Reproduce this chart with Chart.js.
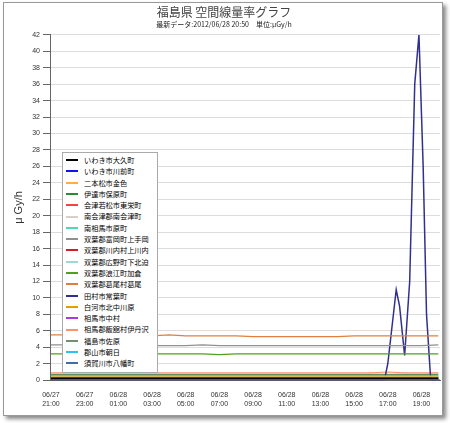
<!DOCTYPE html>
<html><head><meta charset="utf-8">
<script src="https://cdn.jsdelivr.net/npm/chart.js@4"></script>
<style>
body{margin:0;background:#fff;font-family:"Noto Sans CJK JP",sans-serif}
#wrap{position:absolute;left:3px;top:2px;width:438px;height:412px;border:1px solid #999;box-shadow:3px 3px 4px #888;background:#fff}
#legend{position:absolute;left:62px;top:152px;width:94px;border:1px solid #aaa;background:#fff;font-size:7.2px;padding:2px 0}
#legend div{height:11.3px;line-height:11.3px;white-space:nowrap}
#legend span{display:inline-block;width:12px;height:2px;margin:0 6px 2px 3px;vertical-align:middle}
</style></head><body>
<div id="wrap"><canvas id="c" width="438" height="412"></canvas></div>
<div id="legend"></div>
<script>
const names = ['いわき市大久町','いわき市川前町','二本松市金色','伊達市保原町','会津若松市東栄町','南会津郡南会津町','南相馬市原町','双葉郡富岡町上手岡','双葉郡川内村上川内','双葉郡広野町下北迫','双葉郡浪江町加倉','双葉郡葛尾村葛尾','田村市常葉町','白河市北中川原','相馬市中村','相馬郡飯舘村伊丹沢','福島市佐原','郡山市朝日','須賀川市八幡町'];
const colors = ['#000000','#1010f0','#ffb040','#2e8b2e','#ff4040','#d8d0c8','#50d8b0','#909090','#d02020','#a0d8d8','#50a020','#e08040','#303090','#e0a000','#a040e0','#ff9070','#709070','#30c0f0','#4070a0'];
const hours = [0,1,2,3,4,5,6,7,8,9,10,11,12,13,14,15,16,17,18,19,20,21,22,23];
const tickLabels = [['06/27','21:00'],['06/27','23:00'],['06/28','01:00'],['06/28','03:00'],['06/28','05:00'],['06/28','07:00'],['06/28','09:00'],['06/28','11:00'],['06/28','13:00'],['06/28','15:00'],['06/28','17:00'],['06/28','19:00']];
const values = [
 [0.2,0.2,0.2,0.2,0.2,0.2,0.2,0.2,0.2,0.2,0.2,0.2,0.2,0.2,0.2,0.2,0.2,0.2,0.2,0.2,0.2,0.2,0.2,0.2],
 [0.3,0.3,0.3,0.3,0.3,0.3,0.3,0.3,0.3,0.3,0.3,0.3,0.3,0.3,0.3,0.3,0.3,0.3,0.3,0.3,0.3,0.3,0.3,0.3],
 [0.5,0.5,0.5,0.5,0.5,0.5,0.5,0.5,0.5,0.5,0.5,0.5,0.5,0.5,0.5,0.5,0.5,0.5,0.5,0.5,0.5,0.5,0.5,0.5],
 [0.6,0.6,0.6,0.6,0.6,0.6,0.6,0.6,0.6,0.6,0.6,0.6,0.6,0.6,0.6,0.6,0.6,0.6,0.6,0.6,0.6,0.6,0.6,0.6],
 [0.1,0.1,0.1,0.1,0.1,0.1,0.1,0.1,0.1,0.1,0.1,0.1,0.1,0.1,0.1,0.1,0.1,0.1,0.1,0.1,0.1,0.1,0.1,0.1],
 [0.1,0.1,0.1,0.1,0.1,0.1,0.1,0.1,0.1,0.1,0.1,0.1,0.1,0.1,0.1,0.1,0.1,0.1,0.1,0.1,0.1,0.1,0.1,0.1],
 [0.4,0.4,0.4,0.4,0.4,0.4,0.4,0.4,0.4,0.4,0.4,0.4,0.4,0.4,0.4,0.4,0.4,0.4,0.4,0.4,0.4,0.4,0.4,0.4],
 [4.3,4.3,4.2,4.2,4.2,4.3,4.2,4.2,4.2,4.3,4.2,4.2,4.2,4.2,4.2,4.2,4.2,4.2,4.2,4.2,4.2,4.2,4.2,4.3],
 [0.3,0.3,0.3,0.3,0.3,0.3,0.3,0.3,0.3,0.3,0.3,0.3,0.3,0.3,0.3,0.3,0.3,0.3,0.3,0.3,0.3,0.3,0.3,0.3],
 [0.2,0.2,0.2,0.2,0.2,0.2,0.2,0.2,0.2,0.2,0.2,0.2,0.2,0.2,0.2,0.2,0.2,0.2,0.2,0.2,0.2,0.2,0.2,0.2],
 [3.2,3.2,3.3,3.2,3.2,3.2,3.2,3.2,3.2,3.2,3.1,3.2,3.2,3.2,3.2,3.2,3.2,3.2,3.2,3.2,3.2,3.2,3.2,3.2],
 [5.5,5.5,5.5,5.5,5.5,5.5,5.4,5.5,5.4,5.4,5.4,5.4,5.3,5.3,5.3,5.3,5.3,5.3,5.4,5.4,5.4,5.4,5.4,5.4],
 null,
 [0.2,0.2,0.2,0.2,0.2,0.2,0.2,0.2,0.2,0.2,0.2,0.2,0.2,0.2,0.2,0.2,0.2,0.2,0.2,0.2,0.2,0.2,0.2,0.2],
 [0.2,0.2,0.2,0.2,0.2,0.2,0.2,0.2,0.2,0.2,0.2,0.2,0.2,0.2,0.2,0.2,0.2,0.2,0.2,0.2,0.2,0.2,0.2,0.2],
 [0.9,0.9,0.9,0.9,0.9,0.9,0.9,0.9,0.9,0.9,0.9,0.9,0.9,0.9,0.9,0.9,0.9,0.9,0.9,0.9,1.0,0.9,0.9,0.9],
 [0.7,0.7,0.7,0.7,0.7,0.7,0.7,0.7,0.7,0.7,0.7,0.7,0.7,0.7,0.7,0.7,0.7,0.7,0.7,0.7,0.7,0.7,0.7,0.7],
 [0.4,0.4,0.4,0.4,0.4,0.4,0.4,0.4,0.4,0.4,0.4,0.4,0.4,0.4,0.4,0.4,0.4,0.4,0.4,0.4,0.4,0.4,0.4,0.4],
 [0.1,0.1,0.1,0.1,0.1,0.1,0.1,0.1,0.1,0.1,0.1,0.1,0.1,0.1,0.1,0.1,0.1,0.1,0.1,0.1,0.1,0.1,0.1,0.1]
];
// 田村市常葉町 has a finer time series around the spike
const spikeHours = [0,19.8,20.0,20.5,20.7,21.0,21.3,21.6,21.85,22.1,22.3,22.55,23.1];
const spikeValues = [0,0,2,11,9,3,12,36,42,26,8,0,0];

const datasets = names.map((n, i) => ({
  label: n,
  data: values[i] ? hours.map((h, k) => ({x: h, y: values[i][k]})) : spikeHours.map((h, k) => ({x: h, y: spikeValues[k]})),
  borderColor: colors[i], backgroundColor: colors[i],
  borderWidth: i === 12 ? 1.5 : 1.2, pointRadius: 0, tension: 0
}));

document.getElementById('legend').innerHTML = names.map((n, i) =>
  `<div><span style="background:${colors[i]}"></span>${n}</div>`).join('');

new Chart(document.getElementById('c'), {
  type: 'line',
  data: {datasets},
  options: {
    responsive: false, animation: false,
    layout: {padding: {left: 4, right: 2, bottom: 4}},
    plugins: {
      legend: {display: false},
      title: {display: true, text: '福島県 空間線量率グラフ', color: '#444', font: {size: 12, weight: 'normal', family: 'Noto Sans CJK JP'}, padding: {top: 2, bottom: 1}},
      subtitle: {display: true, text: '最新データ:2012/06/28 20:50　単位:μGy/h', color: '#222', font: {size: 7, family: 'Noto Sans CJK JP'}, padding: {bottom: 6}}
    },
    scales: {
      x: {type: 'linear', min: 0, max: 23.1,
        afterBuildTicks: a => { a.ticks = tickLabels.map((_, i) => ({value: i * 2})); },
        ticks: {callback: (v) => tickLabels[v / 2], font: {size: 7}, color: '#333', maxRotation: 0},
        grid: {display: false}, border: {color: '#666'}},
      y: {min: 0, max: 42,
        ticks: {stepSize: 2, font: {size: 7}, color: '#333'},
        grid: {color: '#ddd', tickColor: '#666'}, border: {color: '#666'},
        title: {display: true, text: 'μ Gy/h', font: {size: 11}, color: '#333'}}
    }
  }
});
</script></body></html>
